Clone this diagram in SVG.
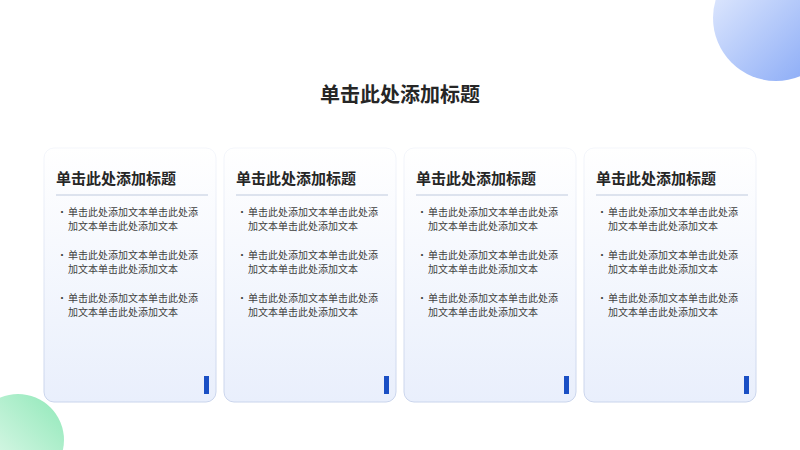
<svg xmlns="http://www.w3.org/2000/svg" width="800" height="450" viewBox="0 0 800 450">
<defs>
<linearGradient id="card" x1="0" y1="0" x2="0" y2="1"><stop offset="0" stop-color="#ffffff"/><stop offset="1" stop-color="#e9effc"/></linearGradient>
<linearGradient id="cs" x1="0" y1="0" x2="0" y2="1"><stop offset="0" stop-color="#f4f6fb"/><stop offset="1" stop-color="#c9d4ec"/></linearGradient>
<linearGradient id="gb" x1="0" y1="0" x2="1" y2="1"><stop offset="0" stop-color="#eef3ff"/><stop offset="1" stop-color="#7ea2f5"/></linearGradient>
<linearGradient id="gg" x1="1" y1="0" x2="0" y2="1"><stop offset="0" stop-color="#8fe8b8"/><stop offset="1" stop-color="#f2fcf6"/></linearGradient>
<style>
.card{fill:url(#card);stroke:url(#cs);stroke-width:1}
.t{font-family:"Noto Sans CJK SC",sans-serif;font-weight:bold;font-size:15px;fill:#262626}
.b{font-family:"Noto Sans CJK SC",sans-serif;font-size:10px;fill:#404040}
.bar{fill:#1a4fc4}
</style>
</defs>
<rect width="800" height="450" fill="#fff"/>
<circle cx="776" cy="18" r="63" fill="url(#gb)"/>
<circle cx="18" cy="440" r="46" fill="url(#gg)"/>
<text x="400" y="102" text-anchor="middle" font-family="Noto Sans CJK SC,sans-serif" font-weight="bold" font-size="20" fill="#262626">单击此处添加标题</text>
<g id="card1" transform="translate(0,0)">
<rect class="card" x="44" y="148" width="172" height="254" rx="10"/>
<text class="t" x="56" y="184">单击此处添加标题</text>
<line x1="56" y1="195" x2="208" y2="195" stroke="#d3dbe8" stroke-width="1.5"/>
<g class="b"><text x="57" y="216">•</text><text x="68" y="216">单击此处添加文本单击此处添</text><text x="68" y="230">加文本单击此处添加文本</text>
<text x="57" y="259">•</text><text x="68" y="259">单击此处添加文本单击此处添</text><text x="68" y="273">加文本单击此处添加文本</text>
<text x="57" y="302">•</text><text x="68" y="302">单击此处添加文本单击此处添</text><text x="68" y="316">加文本单击此处添加文本</text></g>
<rect class="bar" x="204" y="376" width="5" height="18"/>
</g>
<g id="card2" transform="translate(180,0)">
<rect class="card" x="44" y="148" width="172" height="254" rx="10"/>
<text class="t" x="56" y="184">单击此处添加标题</text>
<line x1="56" y1="195" x2="208" y2="195" stroke="#d3dbe8" stroke-width="1.5"/>
<g class="b"><text x="57" y="216">•</text><text x="68" y="216">单击此处添加文本单击此处添</text><text x="68" y="230">加文本单击此处添加文本</text>
<text x="57" y="259">•</text><text x="68" y="259">单击此处添加文本单击此处添</text><text x="68" y="273">加文本单击此处添加文本</text>
<text x="57" y="302">•</text><text x="68" y="302">单击此处添加文本单击此处添</text><text x="68" y="316">加文本单击此处添加文本</text></g>
<rect class="bar" x="204" y="376" width="5" height="18"/>
</g>
<g id="card3" transform="translate(360,0)">
<rect class="card" x="44" y="148" width="172" height="254" rx="10"/>
<text class="t" x="56" y="184">单击此处添加标题</text>
<line x1="56" y1="195" x2="208" y2="195" stroke="#d3dbe8" stroke-width="1.5"/>
<g class="b"><text x="57" y="216">•</text><text x="68" y="216">单击此处添加文本单击此处添</text><text x="68" y="230">加文本单击此处添加文本</text>
<text x="57" y="259">•</text><text x="68" y="259">单击此处添加文本单击此处添</text><text x="68" y="273">加文本单击此处添加文本</text>
<text x="57" y="302">•</text><text x="68" y="302">单击此处添加文本单击此处添</text><text x="68" y="316">加文本单击此处添加文本</text></g>
<rect class="bar" x="204" y="376" width="5" height="18"/>
</g>
<g id="card4" transform="translate(540,0)">
<rect class="card" x="44" y="148" width="172" height="254" rx="10"/>
<text class="t" x="56" y="184">单击此处添加标题</text>
<line x1="56" y1="195" x2="208" y2="195" stroke="#d3dbe8" stroke-width="1.5"/>
<g class="b"><text x="57" y="216">•</text><text x="68" y="216">单击此处添加文本单击此处添</text><text x="68" y="230">加文本单击此处添加文本</text>
<text x="57" y="259">•</text><text x="68" y="259">单击此处添加文本单击此处添</text><text x="68" y="273">加文本单击此处添加文本</text>
<text x="57" y="302">•</text><text x="68" y="302">单击此处添加文本单击此处添</text><text x="68" y="316">加文本单击此处添加文本</text></g>
<rect class="bar" x="204" y="376" width="5" height="18"/>
</g>
<g id="connectors"/>
</svg>
